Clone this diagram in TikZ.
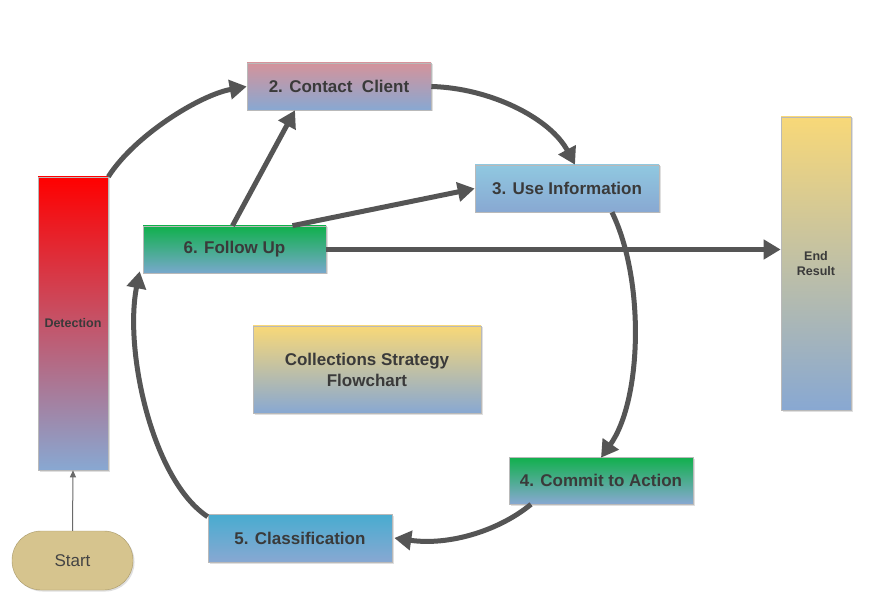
\documentclass[tikz,border=0pt]{standalone}
\usepackage{fontspec}
\setmainfont{Liberation Sans}
\usetikzlibrary{arrows.meta,shadows}
\definecolor{txt}{HTML}{3A3A3A}
\definecolor{arr}{HTML}{555555}
\definecolor{botblue}{HTML}{88A8D2}
\definecolor{ccpink}{HTML}{D4939B}
\definecolor{uiblue}{HTML}{90C8E0}
\definecolor{fugreen}{HTML}{10B04C}
\definecolor{fubot}{HTML}{78A8CC}
\definecolor{yel}{HTML}{F8D878}
\definecolor{clblue}{HTML}{48ACD0}
\definecolor{tan}{HTML}{D6C48E}
\definecolor{tanedge}{HTML}{A89868}
\definecolor{starttxt}{HTML}{444444}
\definecolor{thin}{HTML}{6A6A6A}
\tikzset{
  box/.style={draw=gray!55, line width=0.6pt, minimum width=184pt, minimum height=47pt,
    inner sep=0pt, text=txt, font=\fontsize{17}{21}\selectfont\bfseries, align=center,
    drop shadow={opacity=0.25, shadow xshift=1.5pt, shadow yshift=-1.5pt}},
  tall/.style={box, minimum width=70pt, minimum height=293pt, font=\fontsize{12.5}{15}\selectfont\bfseries},
  bigarrow/.style={draw=arr, line width=5pt, -{Triangle[length=17pt,width=19pt]}},
}
\begin{document}
\begin{tikzpicture}[x=1pt,y=-1pt]
\useasboundingbox[fill=white] (0,0) rectangle (895,596);
% nodes
\node[tall, top color=red, bottom color=botblue] (det) at (73,323.5) {Detection};
\node[draw=tanedge, fill=tan, minimum width=121pt, minimum height=59pt,
  rounded corners=29pt, text=starttxt, font=\fontsize{17}{21}\selectfont,
  drop shadow={opacity=0.25, shadow xshift=1.5pt, shadow yshift=-1.5pt}] (start) at (72.5,560.5) {Start};
\node[box, top color=ccpink, bottom color=botblue] (cc) at (339,86.5) {2. Contact\ \ Client};
\node[box, top color=uiblue, bottom color=botblue] (ui) at (567,188.5) {3. Use Information};
\node[box, minimum width=183pt, top color=fugreen, bottom color=fubot] (fu) at (234.5,249.5) {6. Follow Up};
\node[tall, top color=yel, bottom color=botblue] (er) at (816,263.5) {End\\Result};
\node[box, minimum width=228pt, minimum height=87pt, top color=yel, bottom color=botblue] (cs) at (367,369.5) {Collections Strategy\\Flowchart};
\node[box, top color=fugreen, bottom color=botblue] (ca) at (601,480.5) {4. Commit to Action};
\node[box, minimum height=48pt, top color=clblue, bottom color=botblue] (cl) at (300,538) {5. Classification};
% connectors
\draw[draw=thin, line width=1pt, -{Triangle[length=7pt,width=6pt]}] (start.north) -- (det.south);
\draw[bigarrow] (det.north east) .. controls (135,135) and (200,95) .. (cc.west);
\draw[bigarrow] (cc.east) .. controls (490,88) and (550,118) .. ([xshift=8pt]ui.north);
\draw[bigarrow] ([xshift=-2pt]fu.north) -- ([xshift=-44pt]cc.south);
\draw[bigarrow] ([xshift=58pt]fu.north) -- (ui.west);
\draw[bigarrow] (fu.east) -- (er.west |- fu.east);
\draw[bigarrow] ([xshift=45pt]ui.south) .. controls (645,280) and (642,400) .. ([yshift=-1pt]ca.north);
\draw[bigarrow] ([xshift=-70pt]ca.south) .. controls (500,530) and (450,546) .. ([xshift=2pt]cl.east);
\draw[bigarrow] ([yshift=-3pt]cl.north west) .. controls (152,480) and (124,350) .. ([xshift=-3pt,yshift=2pt]fu.south west);
\end{tikzpicture}
\end{document}
